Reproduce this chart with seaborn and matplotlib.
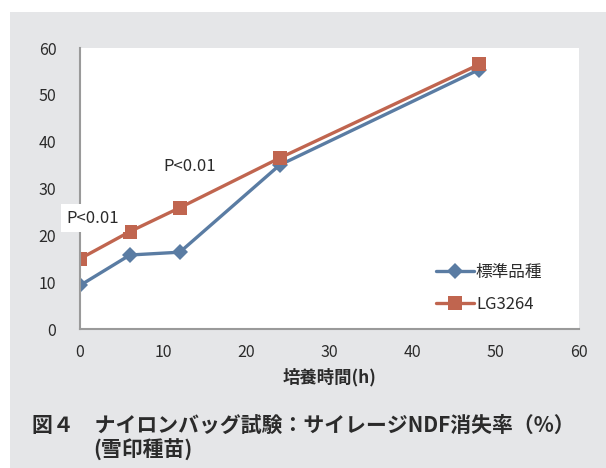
import pandas as pd
import numpy as np
import matplotlib
matplotlib.use('Agg')
import matplotlib.pyplot as plt
import seaborn as sns
from matplotlib.patches import Rectangle

# データ
hours = [0, 6, 12, 24, 48]
standard = [9.3, 15.8, 16.4, 35.0, 55.4]
lg3264 = [15.0, 20.8, 25.9, 36.5, 56.5]
series_names = ['標準品種', 'LG3264']
x_ticks = [0, 10, 20, 30, 40, 50, 60]
y_ticks = [0, 10, 20, 30, 40, 50, 60]

df = pd.DataFrame({
    '時間': hours * 2,
    '消失率': standard + lg3264,
    '品種': [series_names[0]] * len(hours) + [series_names[1]] * len(hours),
})

sns.set_style('white')
plt.rcParams['font.family'] = ['Noto Sans CJK JP', 'DejaVu Sans']

bg = '#e5e6e8'
blue = '#5a7ca3'
red = '#c0654f'
axis_gray = '#9a9a9a'
text_col = '#2b2b2b'

fig = plt.figure(figsize=(6.06, 4.68), dpi=100)
fig.patch.set_facecolor('white')
# 背景のグレー枠
fig.patches.append(Rectangle((10 / 606, 0), 1 - 10 / 606, (468 - 12) / 468,
                             transform=fig.transFigure, facecolor=bg,
                             edgecolor='none', zorder=-10))

ax = fig.add_axes([80 / 606, (468 - 329) / 468, 499 / 606, 281 / 468])
ax.set_facecolor('white')

sns.lineplot(data=df, x='時間', y='消失率', hue='品種', style='品種',
             palette={series_names[0]: blue, series_names[1]: red},
             markers={series_names[0]: 'D', series_names[1]: 's'},
             dashes=False, linewidth=2.4, ax=ax)
msizes = [8.5, 10]
for line, ms in zip(ax.lines, msizes):
    line.set_markersize(ms)
    line.set_markeredgewidth(0)

ax.set_xlim(0, 60)
ax.set_ylim(0, 60)
ax.set_xticks(x_ticks)
ax.set_yticks(y_ticks)
for s in ['top', 'right']:
    ax.spines[s].set_visible(False)
for s in ['left', 'bottom']:
    ax.spines[s].set_color(axis_gray)
    ax.spines[s].set_linewidth(1.5)
ax.tick_params(axis='both', direction='out', length=4, width=1.5,
               color=axis_gray, labelsize=11.5, labelcolor=text_col)
ax.tick_params(axis='y', pad=13)
ax.tick_params(axis='x', pad=7)

ax.set_xlabel('培養時間(h)', fontsize=12.5, fontweight='bold', color=text_col, labelpad=5)
ax.set_ylabel('')

# 有意差
ax.text(-1.6, 23.7, 'P<0.01', fontsize=12, color=text_col, va='center', ha='left',
        bbox=dict(facecolor='white', edgecolor='none', pad=4), clip_on=False)
ax.text(10.0, 34.6, 'P<0.01', fontsize=12, color=text_col, va='center', ha='left')

leg = ax.legend(loc='upper left', bbox_to_anchor=(0.70, 0.255), frameon=False,
                fontsize=12, handlelength=2.3, handletextpad=0.1,
                labelspacing=0.9, borderaxespad=0)
for h, ms in zip(leg.legend_handles, msizes):
    h.set_markersize(ms)
    h.set_markeredgewidth(0)
for t in leg.get_texts():
    t.set_color(text_col)

fig.text(32 / 606, 1 - 425 / 468, '図４　ナイロンバッグ試験：サイレージNDF消失率（%）',
         fontsize=15, fontweight='bold', color=text_col, va='center', ha='left')
fig.text(93 / 606, 1 - 450 / 468, '(雪印種苗)',
         fontsize=15, fontweight='bold', color=text_col, va='center', ha='left')

fig.savefig('out.png', dpi=100)
